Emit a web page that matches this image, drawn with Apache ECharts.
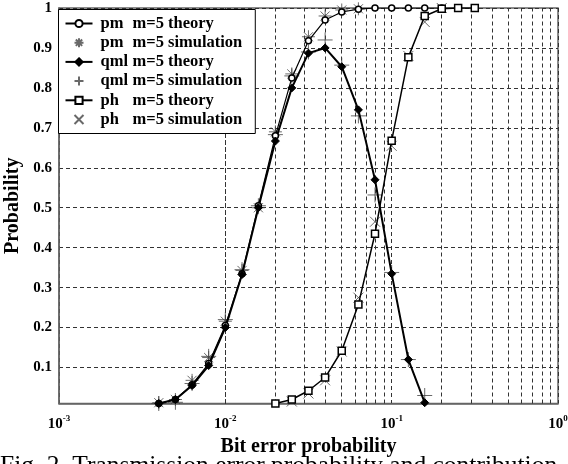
<!DOCTYPE html>
<html>
<head>
<meta charset="utf-8">
<script src="https://cdn.jsdelivr.net/npm/echarts@6/dist/echarts.min.js"></script>
<style>
html,body{margin:0;padding:0;background:#fff;}
#chart{width:568px;height:464px;}
</style>
</head>
<body>
<div id="chart"></div>
<script>
// ---- data ----
const pmX = [0.00398,0.00501,0.00631,0.00794,0.0100,0.0126,0.0158,0.0200,0.0251,0.0316,0.0398,0.0501,0.0631,0.0794,0.100,0.126,0.158,0.200,0.251];
const pmTheory = [0.010,0.020,0.057,0.110,0.205,0.335,0.505,0.680,0.825,0.918,0.970,0.990,0.997,1.0,1.0,1.0,1.0,1.0,1.0];
const pmSimX = [0.00398,0.00501,0.00631,0.00794,0.0100,0.0126,0.0158,0.0200,0.0251,0.0316,0.0398,0.0501,0.0631];
const pmSim = [0.012,0.020,0.068,0.125,0.216,0.343,0.500,0.690,0.835,0.928,0.980,0.995,0.998];
const qmlX = [0.00398,0.00501,0.00631,0.00794,0.0100,0.0126,0.0158,0.0200,0.0251,0.0316,0.0398,0.0501,0.0631,0.0794,0.100,0.126,0.158];
const qmlTheory = [0.010,0.020,0.055,0.105,0.200,0.333,0.500,0.667,0.800,0.887,0.900,0.853,0.745,0.570,0.335,0.120,0.012];
const qmlSim = [0.010,0.013,0.060,0.128,0.220,0.345,0.505,0.683,0.830,0.890,0.920,0.857,0.730,0.532,0.338,0.120,0.030];
const phX = [0.0200,0.0251,0.0316,0.0398,0.0501,0.0631,0.0794,0.100,0.126,0.158,0.200,0.251,0.316];
const phTheory = [0.010,0.020,0.042,0.075,0.142,0.258,0.435,0.668,0.877,0.980,0.998,1.0,1.0];
const phSimX = [0.0251,0.0316,0.0398,0.0501,0.0631,0.0794,0.100,0.126,0.158,0.200];
const phSim = [0.015,0.035,0.068,0.140,0.275,0.465,0.655,0.880,0.965,1.0];
const yTicks = [0.1,0.2,0.3,0.4,0.5,0.6,0.7,0.8,0.9,1];
const minorX = [0.002,0.003,0.004,0.005,0.006,0.007,0.008,0.009,0.02,0.03,0.04,0.05,0.06,0.07,0.08,0.09,0.2,0.3,0.4,0.5,0.6,0.7,0.8,0.9];
const seriesNames = ['pm m=5 theory','pm m=5 simulation','qml m=5 theory','qml m=5 simulation','ph m=5 theory','ph m=5 simulation'];
const xTitle = 'Bit error probability';
const yTitle = 'Probability';
const caption = 'Fig. 2. Transmission error probability and contribution';

const zip = (xs, ys) => xs.map((x, i) => [x, ys[i]]);
const SERIF = 'Liberation Serif';
const GRID = {color: '#333', width: 1, type: [4, 3]};
const STAR = 'path://M0,5L10,5M5,0L5,10M1.5,1.5L8.5,8.5M8.5,1.5L1.5,8.5';
const PLUS = 'path://M0,5L10,5M5,0L5,10';
const CROSS = 'path://M0,0L10,10M10,0L0,10';
const simStyle = {color: 'none', borderColor: '#444', borderWidth: 1};
const LEG_TXT = {fontFamily: SERIF, fontWeight: 'bold', fontSize: 16.5, color: '#000', lineHeight: 15};

const chart = echarts.init(document.getElementById('chart'), null, {renderer: 'canvas'});
chart.setOption({
  animation: false,
  backgroundColor: '#fff',
  grid: {left: 59, right: 10, top: 8, bottom: 60.5, containLabel: false, outerBoundsMode: 'none',
         show: true, borderColor: '#666', borderWidth: 1.5, backgroundColor: 'transparent'},
  xAxis: {
    type: 'log', logBase: 10, min: 0.001, max: 1,
    name: xTitle, nameLocation: 'middle', nameGap: 32,
    nameTextStyle: {fontFamily: SERIF, fontWeight: 'bold', fontSize: 20, color: '#000'},
    axisLine: {lineStyle: {color: '#666', width: 1.5}},
    axisTick: {show: false},
    splitLine: {show: true, lineStyle: GRID},
    axisLabel: {
      margin: 11,
      formatter: v => '{b|10}{s|' + Math.round(Math.log10(v)) + '}',
      rich: {
        b: {fontFamily: SERIF, fontWeight: 'bold', fontSize: 15, color: '#000'},
        s: {fontFamily: SERIF, fontWeight: 'bold', fontSize: 9, color: '#000', padding: [0, 0, 10, 0]}
      }
    }
  },
  yAxis: {
    type: 'value', min: 0.01, max: 1,
    name: yTitle, nameLocation: 'middle', nameGap: 32,
    nameTextStyle: {fontFamily: SERIF, fontWeight: 'bold', fontSize: 20, color: '#000'},
    axisLine: {show: true, lineStyle: {color: '#666', width: 1.5}},
    axisTick: {show: false, customValues: yTicks},
    splitLine: {show: true, lineStyle: GRID},
    axisLabel: {
      customValues: yTicks, margin: 7,
      formatter: v => (v === 1 ? '1' : v.toFixed(1)),
      fontFamily: SERIF, fontWeight: 'bold', fontSize: 15, color: '#000'
    }
  },
  legend: {
    orient: 'vertical', left: 58.5, top: 9.5,
    padding: [5.5, 13, 5.5, 6], itemGap: 2.2, itemWidth: 27, itemHeight: 9,
    borderColor: '#000', borderWidth: 1, backgroundColor: '#fff',
    data: seriesNames,
    formatter: n => { const i = n.indexOf(' '); return '{a|' + n.slice(0, i) + '}{b|' + n.slice(i + 1) + '}'; },
    textStyle: Object.assign({}, LEG_TXT, {
      padding: [0, 0, 0, 3],
      rich: {a: Object.assign({width: 32}, LEG_TXT), b: LEG_TXT}
    })
  },
  graphic: [{
    type: 'text', left: 0, top: 453,
    style: {text: caption, fontFamily: SERIF, fontSize: 25.5, fill: '#000'}
  }],
  series: [
    {
      name: seriesNames[0], type: 'line', data: zip(pmX, pmTheory),
      symbol: 'circle', symbolSize: 6,
      itemStyle: {color: '#fff', borderColor: '#000', borderWidth: 1.5},
      lineStyle: {color: '#000', width: 1.2},
      markLine: {
        silent: true, symbol: 'none', z: 1, label: {show: false},
        lineStyle: GRID, emphasis: {disabled: true},
        data: minorX.map(v => ({xAxis: v}))
      }
    },
    {
      name: seriesNames[1], type: 'scatter', data: zip(pmSimX, pmSim),
      symbol: STAR, symbolSize: 13, itemStyle: simStyle
    },
    {
      name: seriesNames[2], type: 'line', data: zip(qmlX, qmlTheory),
      symbol: 'diamond', symbolSize: 8,
      itemStyle: {color: '#000', borderColor: '#000', borderWidth: 1},
      lineStyle: {color: '#000', width: 2}
    },
    {
      name: seriesNames[3], type: 'scatter', data: zip(qmlX, qmlSim),
      symbol: PLUS, symbolSize: 15, itemStyle: simStyle
    },
    {
      name: seriesNames[4], type: 'line', data: zip(phX, phTheory),
      symbol: 'rect', symbolSize: 7,
      itemStyle: {color: '#fff', borderColor: '#000', borderWidth: 1.5},
      lineStyle: {color: '#000', width: 1.5}
    },
    {
      name: seriesNames[5], type: 'scatter', data: zip(phSimX, phSim),
      symbol: CROSS, symbolSize: 10, itemStyle: simStyle
    }
  ]
});
</script>
</body>
</html>
